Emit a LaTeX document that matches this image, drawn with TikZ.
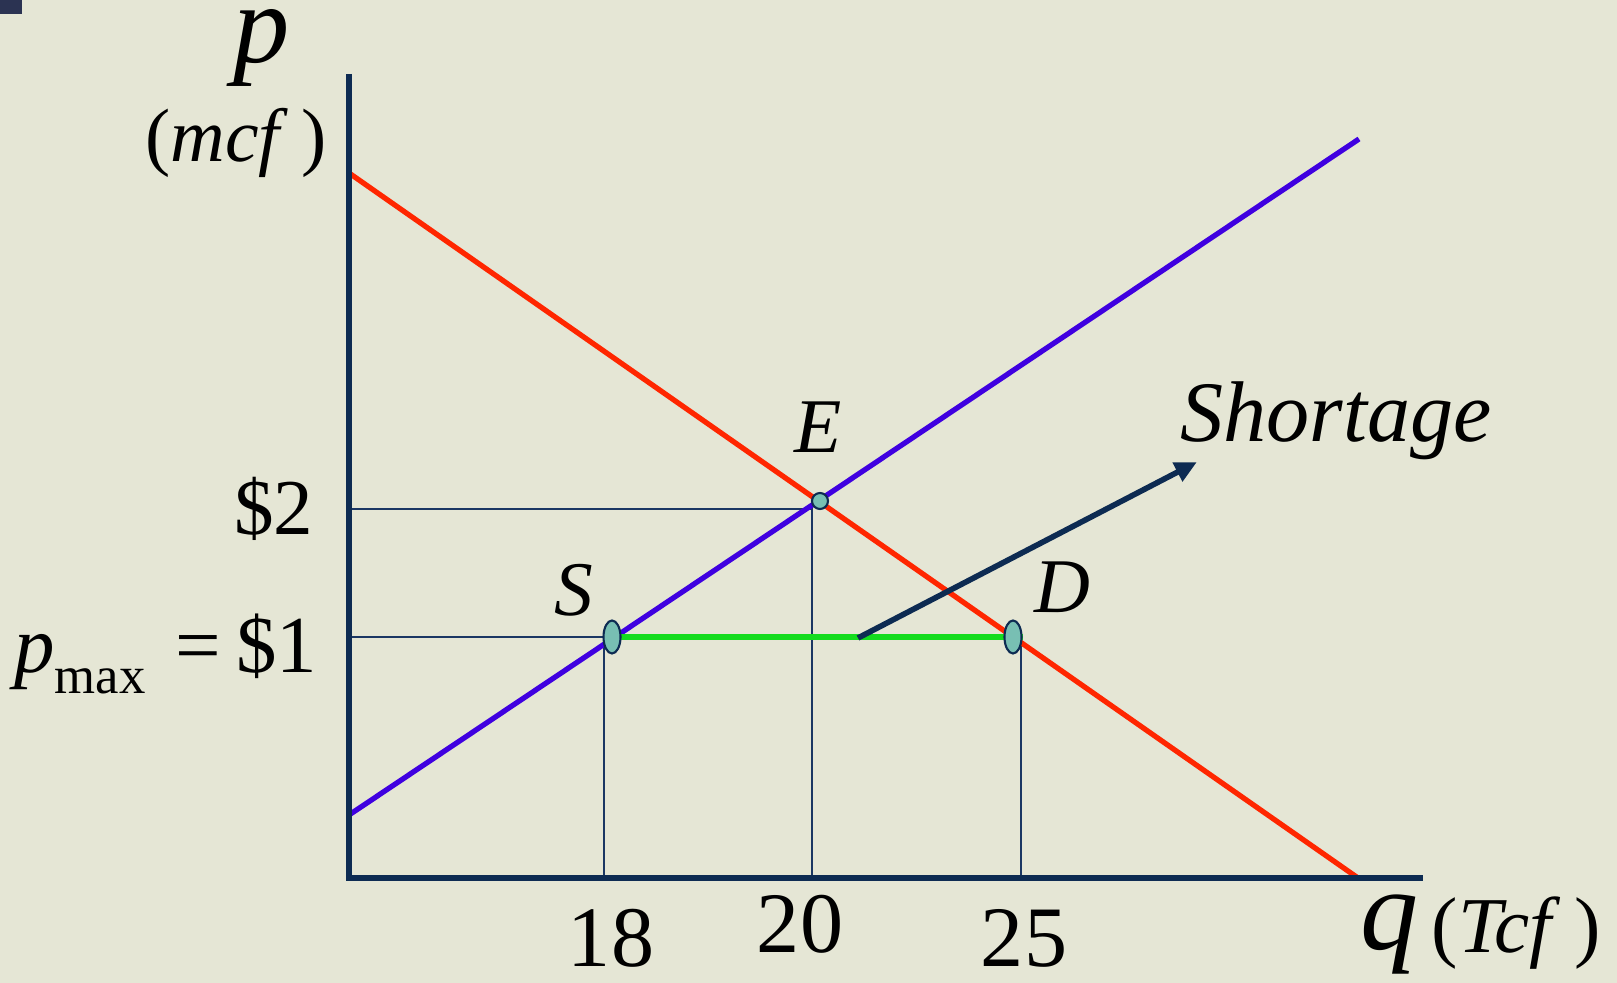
\documentclass[tikz,border=0pt]{standalone}
\usepackage{fontspec}
\setmainfont{Liberation Serif}
\usetikzlibrary{arrows.meta, shapes.geometric}
\definecolor{PaperBeige}{HTML}{E5E6D5}
\definecolor{CornerInk}{HTML}{2B3352}
\definecolor{AxisNavy}{HTML}{0D2B52}
\definecolor{GuideNavy}{HTML}{1B3763}
\definecolor{DemandRed}{HTML}{FF2600}
\definecolor{SupplyViolet}{HTML}{3F00E0}
\definecolor{GapGreen}{HTML}{14DC1E}
\definecolor{DotTeal}{HTML}{78BFB3}
\newcommand{\fsz}[1]{\fontsize{#1pt}{#1pt}\selectfont}
\tikzset{
  axisline/.style={draw=AxisNavy, line width=1.7pt},
  guide/.style={draw=GuideNavy, line width=0.6pt},
  demand/.style={draw=DemandRed, line width=1.5pt},
  supply/.style={draw=SupplyViolet, line width=1.5pt},
  shortline/.style={draw=GapGreen, line width=1.8pt},
  pointer/.style={-{Triangle[length=0.22cm, width=0.2cm]}, draw=AxisNavy, line width=1.6pt},
  eqdot/.style={circle, draw=AxisNavy, line width=0.6pt, fill=DotTeal, inner sep=0pt, minimum size=0.16cm},
  ceildot/.style={ellipse, draw=AxisNavy, line width=0.6pt, fill=DotTeal, inner sep=0pt, minimum width=0.17cm, minimum height=0.33cm},
  lbl/.style={inner sep=0pt, text=black}
}

\begin{document}
\begin{tikzpicture}[x=0.01cm, y=-0.01cm]
\useasboundingbox (0,0) rectangle (1617,983);
\fill[PaperBeige] (0,0) rectangle (1617,983);
\fill[CornerInk] (0,0) rectangle (22,14);

% axes and curve ends
\coordinate (origin) at (349,878);
\coordinate (ytop) at (349,74);
\coordinate (xend) at (1423,878);
\coordinate (dTop) at (349,173);
\coordinate (dEnd) at (1358,878);
\coordinate (sLow) at (349,815);
\coordinate (sTop) at (1359,139);
% equilibrium and price ceiling
\coordinate (E) at (820,501);
\coordinate (eAxis) at (349,509);
\coordinate (eCorner) at (812,509);
\coordinate (eFoot) at (812,878);
\coordinate (cAxis) at (349,637);
\coordinate (sQty) at (604,637);
\coordinate (sFoot) at (604,878);
\coordinate (S) at (612,637);
\coordinate (D) at (1013,637);
\coordinate (dQty) at (1021,637);
\coordinate (dFoot) at (1021,878);
\coordinate (gapEnd) at (1023,637);
\coordinate (shortFrom) at (858,638);
\coordinate (shortTo) at (1197,462);

\draw[guide] (eAxis) -- (eCorner) -- (eFoot);
\draw[guide] (cAxis) -- (sQty) -- (sFoot);
\draw[guide] (dQty) -- (dFoot);
\draw[demand] (dTop) -- (dEnd);
\draw[supply] (sLow) -- (sTop);
\draw[shortline] (S) -- (gapEnd);
\draw[pointer] (shortFrom) -- (shortTo);
\draw[axisline] (ytop) -- (origin) -- (xend);

\node[eqdot] (markE) at (E) {};
\node[ceildot] (markS) at (S) {};
\node[ceildot] (markD) at (D) {};

% axis labels
\node[lbl, anchor=base, font={\fsz{32}\itshape}] (lblP) at (262,63) {p};
\node[lbl, anchor=base, font={\fsz{21.5}}] (lblMcf) at (236,162) {(\textit{mcf}\,)};
\node[lbl, anchor=base west, font={\fsz{33}\itshape}] (lblQ) at (1360,950) {q};
\node[lbl, anchor=base west, font={\fsz{22.5}}] (lblTcf) at (1431,953) {(\textit{Tcf}\,)};
% prices
\node[lbl, anchor=base east, font={\fsz{22.5}}] (lblTwo) at (314,535) {\$2};
\node[lbl, anchor=base east, font={\fsz{23}}] (lblMax) at (318,673)
  {\textit{p}\raisebox{-0.2cm}{\fsz{15}max}\hspace{0.3cm}=\hspace{0.15cm}\$1};
% quantities
\node[lbl, anchor=base, font={\fsz{24.5}}] (lblEighteen) at (611,967) {18};
\node[lbl, anchor=base, font={\fsz{24.5}}] (lblTwenty) at (800,953) {20};
\node[lbl, anchor=base, font={\fsz{24.5}}] (lblTwentyFive) at (1024,967) {25};
% points
\node[lbl, anchor=base, font={\fsz{22}\itshape}] (lblE) at (818,453) {E};
\node[lbl, anchor=base, font={\fsz{22}\itshape}] (lblS) at (574,616) {S};
\node[lbl, anchor=base, font={\fsz{22}\itshape}] (lblD) at (1062,613) {D};
\node[lbl, anchor=base west, font={\fsz{24.5}\itshape}] (lblShort) at (1180,442) {Shortage};
\end{tikzpicture}
\end{document}
